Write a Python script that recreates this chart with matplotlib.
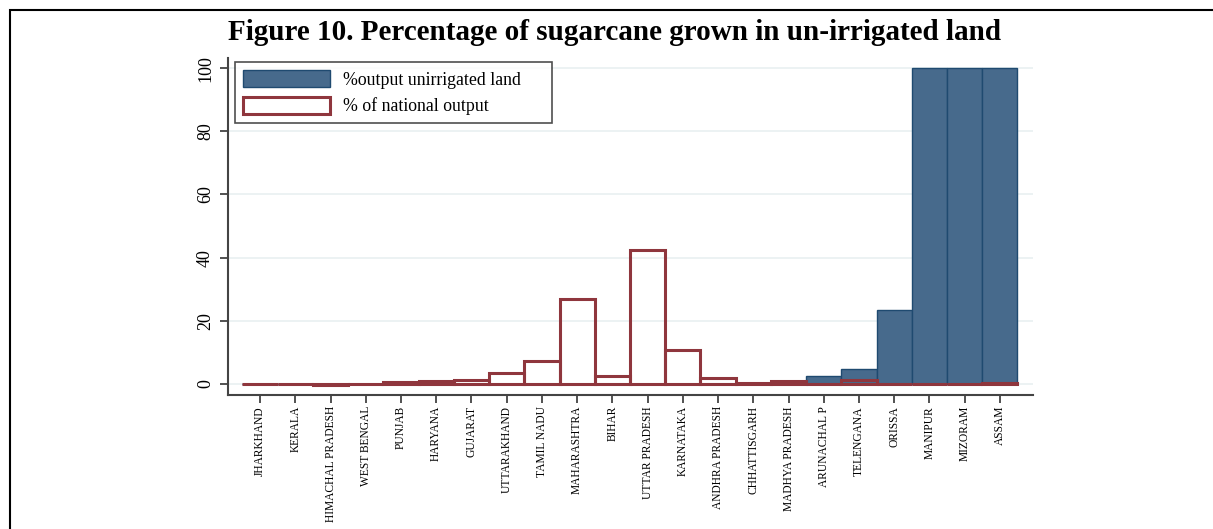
import matplotlib.pyplot as plt
import matplotlib.patches as mpatches
import numpy as np

states = ["JHARKHAND", "KERALA", "HIMACHAL PRADESH", "WEST BENGAL", "PUNJAB", "HARYANA",
          "GUJARAT", "UTTARAKHAND", "TAMIL NADU", "MAHARASHTRA", "BIHAR", "UTTAR PRADESH",
          "KARNATAKA", "ANDHRA PRADESH", "CHHATTISGARH", "MADHYA PRADESH", "ARUNACHAL P",
          "TELENGANA", "ORISSA", "MANIPUR", "MIZORAM", "ASSAM"]
unirrigated = [0, 0, 0, 0, 0, 0, 0, 0, 0, 0, 0, 0, 0, 0, 0, 0, 2.6, 4.6, 23.5, 100, 100, 100]
national = [0, 0, -0.2, -0.1, 0.7, 0.9, 1.3, 3.5, 7.3, 26.9, 2.6, 42.4, 10.7, 2.0, 0.3, 1.0,
            0, 1.1, 0.1, 0.05, -0.15, 0.3]

plt.rcParams['font.family'] = ['Liberation Serif', 'DejaVu Serif']

blue = "#476a8c"
red = "#8f363d"

fig = plt.figure(figsize=(12.13, 5.29), dpi=100)
ax = fig.add_axes([228/1213, 1-395/529, (1033-228)/1213, (395-58)/529])

x = np.arange(len(states))
ax.bar(x, unirrigated, width=1.0, color=blue, edgecolor="#1f4a70", linewidth=1.0,
       label="%output unirrigated land" + " " * 5, zorder=2)
ax.bar(x, national, width=1.0, facecolor="none", edgecolor=red, linewidth=2.2,
       label="% of national output", zorder=3)

ax.set_xlim(-0.91, 21.94)
ax.set_ylim(-3.5, 103.2)
ax.set_yticks([0, 20, 40, 60, 80, 100])
ax.set_yticklabels(["0", "20", "40", "60", "80", "100"], rotation=90, va="center", fontsize=13)
ax.set_xticks(x)
ax.set_xticklabels(states, rotation=90, fontsize=8.3)
ax.tick_params(axis="both", length=6, width=1.2, color="#333333")
ax.tick_params(axis="y", pad=4)
ax.tick_params(axis="x", pad=2)

ax.grid(axis="y", color="#e9f0f1", linewidth=1.2, zorder=0)
ax.set_axisbelow(True)
for s in ["top", "right"]:
    ax.spines[s].set_visible(False)
for s in ["left", "bottom"]:
    ax.spines[s].set_color("#444444")
    ax.spines[s].set_linewidth(1.5)

leg = ax.legend(loc="upper left", bbox_to_anchor=((235-228)/805, (395-62)/337),
                fontsize=12.8, frameon=True, fancybox=False, edgecolor="#222222",
                handlelength=4.9, handleheight=1.1, borderpad=0.45, labelspacing=0.45,
                handletextpad=0.75, borderaxespad=0)
leg.get_frame().set_linewidth(1.2)

fig.text(0.507, 1-33/529, "Figure 10. Percentage of sugarcane grown in un-irrigated land",
         ha="center", va="center", fontsize=21, fontweight="bold")

frame = mpatches.Rectangle((10/1213, -0.1), 1.2, 1-10/529+0.1, transform=fig.transFigure,
                           fill=False, edgecolor="black", linewidth=1.5, clip_on=False)
fig.patches.append(frame)

fig.savefig("out.png", dpi=100)
